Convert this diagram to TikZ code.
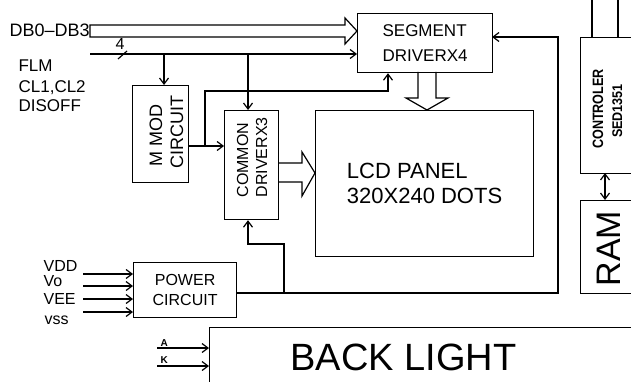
\documentclass[tikz,border=0pt]{standalone}
\usepackage{fontspec}
\setmainfont{Liberation Sans}
\usetikzlibrary{arrows.meta,calc}
\newcommand\fsz[2]{\fontsize{#1}{#2}\selectfont}
\begin{document}
\begin{tikzpicture}[x=1pt,y=-1pt,line width=1.2pt,
  box/.style={draw,inner sep=0pt,anchor=north west},
  tip/.style={-{Straight Barb[length=6pt,width=9pt]}},
  dtip/.style={{Straight Barb[length=6pt,width=9pt]}-{Straight Barb[length=6pt,width=9pt]}},
  lbl/.style={inner sep=0pt},
  rot/.style={inner sep=0pt,rotate=90},
  fat/.style={line join=miter}]
\useasboundingbox (0,0) rectangle (631,382);
\clip (0,0) rectangle (631,382);

% boxes
\node[box,minimum width=135pt,minimum height=59pt,align=left,font=\fsz{17}{25}] (seg) at (357,13) {SEGMENT\\DRIVERX4};
\node[box,minimum width=56pt,minimum height=97pt] (mmod) at (132,85) {};
\node[box,minimum width=54pt,minimum height=109pt] (com) at (224,110) {};
\node[box,minimum width=218pt,minimum height=146pt,align=left,font=\fsz{22}{25}] (lcd) at (315,110) {LCD PANEL\\320X240 DOTS};
\node[box,minimum width=103pt,minimum height=55pt,align=center,font=\fsz{16}{20}] (pwr) at (133,262) {POWER\\CIRCUIT};
\node[box,minimum width=440pt,minimum height=80pt] (bl) at (209,327) {};
\node[box,minimum width=80pt,minimum height=136pt] (ctrl) at (580,37) {};
\node[box,minimum width=80pt,minimum height=93pt] (ram) at (580,200) {};

% texts
\node[lbl,anchor=base west,font=\fsz{18}{18}] (tdb) at (9,37) {DB0--DB3};
\node[lbl,anchor=base west,font=\fsz{17}{17}] (tflm) at (18,72) {FLM};
\node[lbl,anchor=base west,font=\fsz{17}{17}] (tcl) at (18,92.5) {CL1,CL2};
\node[lbl,anchor=base west,font=\fsz{17}{17}] (tdis) at (18,112) {DISOFF};
\node[lbl,anchor=base,font=\fsz{16}{16}] (t4) at (120,50) {4};
\node[rot,anchor=base west,font=\fsz{18}{18}] (tm1) at (162,167) {M MOD};
\node[rot,anchor=base west,font=\fsz{18}{18}] (tm2) at (183,169) {CIRCUIT};
\node[rot,anchor=base west,font=\fsz{16}{16}] (tc1) at (248,198) {COMMON};
\node[rot,anchor=base west,font=\fsz{16}{16}] (tc2) at (267,198) {DRIVERX3};
\node[rot,anchor=base,font=\bfseries\fsz{15}{15}] (tk1) at (603,109) {\scalebox{0.84}[1]{CONTROLER}};
\node[rot,anchor=base,font=\bfseries\fsz{14}{14}] (tk2) at (622,111) {\scalebox{0.9}[1]{SED1351}};
\node[rot,anchor=base west,font=\fsz{34}{34}] (tr) at (620,287) {RAM};
\node[lbl,anchor=base west,font=\fsz{38}{38}] (tbl) at (290,370) {BACK LIGHT};
\node[lbl,anchor=base west,font=\fsz{16}{16}] (tvdd) at (43,271) {VDD};
\node[lbl,anchor=base west,font=\fsz{16}{16}] (tvo) at (43,286) {Vo};
\node[lbl,anchor=base west,font=\fsz{16}{16}] (tvee) at (43,304) {VEE};
\node[lbl,anchor=base west,font=\fsz{16}{16}] (tvss) at (44,324) {vss};
\node[lbl,anchor=base west,font=\bfseries\fsz{10}{10}] (ta) at (160,346) {A};
\node[lbl,anchor=base west,font=\bfseries\fsz{10}{10}] (tk) at (160,363) {K};

% fat arrows
\draw[fat] (90,25) -- (345,25) -- (345,18) -- (357,31) -- (345,44) -- (345,37) -- (90,37) -- cycle;
\draw[fat] (418,72) -- (418,98) -- (406,98) -- (427,110) -- (448,98) -- (436,98) -- (436,72);
\draw[fat] (278,163) -- (302,163) -- (302,152) -- (315,173) -- (302,196) -- (302,182) -- (278,182);

% connectors
\coordinate (inA) at (90,54);
\draw[tip] (inA) -- (inA -| seg.west);
\draw (118,59) -- (127,51);
\coordinate (d1) at (164,54);
\draw[tip] (d1) -- (d1 |- mmod.north);
\coordinate (d2) at (248,54);
\draw[tip] (d2) -- (d2 |- com.north);
\coordinate (mo) at (188,146);
\draw[tip] (mo) -- (mo -| com.west);
\coordinate (br) at (205,146);
\coordinate (sj) at (388,91);
\draw[tip] (br) |- (sj) -- (sj |- seg.south);
\coordinate (fb) at (558,293);
\coordinate (sr) at (492,37);
\draw[tip] (pwr.east |- fb) -- (fb) |- (sr);
\coordinate (fb2) at (284,293);
\coordinate (cb) at (248,244);
\draw[tip] (fb2) |- (cb) -- (cb |- com.south);
\foreach \n/\yy in {p1/274,p2/286,p3/299,p4/312}{
  \coordinate (\n) at (83,\yy);
  \draw[tip] (\n) -- (\n -| pwr.west);
}
\coordinate (ia) at (157,348);
\coordinate (ik) at (157,366);
\draw[tip] (ia) -- (ia -| bl.west);
\draw[tip] (ik) -- (ik -| bl.west);
\coordinate (cr) at (605,173);
\draw[dtip] (cr) -- (cr |- ram.north);
\coordinate (ct1) at (592,0);
\coordinate (ct2) at (618,0);
\draw (ct1) -- (ct1 |- ctrl.north);
\draw (ct2) -- (ct2 |- ctrl.north);
\end{tikzpicture}
\end{document}
